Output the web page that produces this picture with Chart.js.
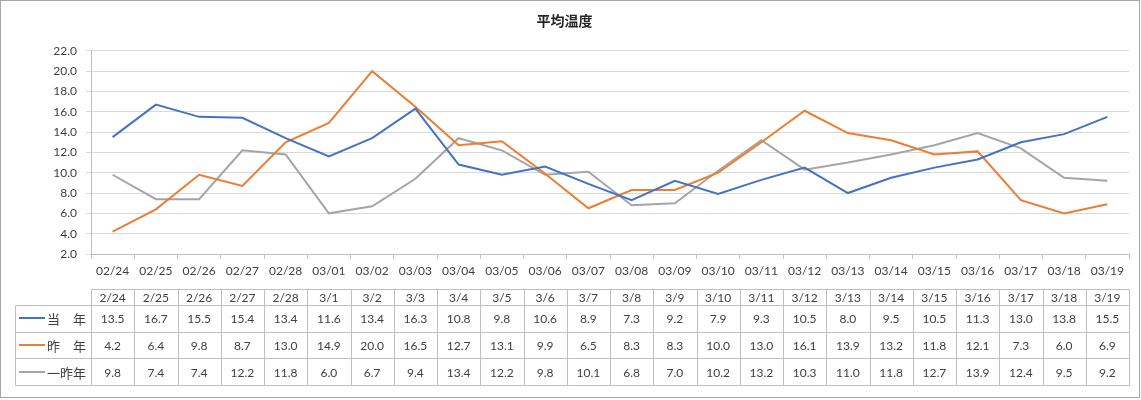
<!DOCTYPE html>
<html>
<head>
<meta charset="utf-8">
<script src="https://cdn.jsdelivr.net/npm/chart.js@4.4.1/dist/chart.umd.min.js"></script>
<style>
  html, body { margin: 0; padding: 0; background: #fff; }
  canvas { display: block; }
</style>
</head>
<body>
<canvas id="tempChart" width="1141" height="400"></canvas>
<script>
const axisLabels = ['02/24','02/25','02/26','02/27','02/28','03/01','03/02','03/03','03/04','03/05','03/06','03/07','03/08','03/09','03/10','03/11','03/12','03/13','03/14','03/15','03/16','03/17','03/18','03/19'];
const tableLabels = ['2/24','2/25','2/26','2/27','2/28','3/1','3/2','3/3','3/4','3/5','3/6','3/7','3/8','3/9','3/10','3/11','3/12','3/13','3/14','3/15','3/16','3/17','3/18','3/19'];
const seriesNames = ['当\u3000年', '昨\u3000年', '一昨年'];
const thisYear = [13.5,16.7,15.5,15.4,13.4,11.6,13.4,16.3,10.8,9.8,10.6,8.9,7.3,9.2,7.9,9.3,10.5,8.0,9.5,10.5,11.3,13.0,13.8,15.5];
const lastYear = [4.2,6.4,9.8,8.7,13.0,14.9,20.0,16.5,12.7,13.1,9.9,6.5,8.3,8.3,10.0,13.0,16.1,13.9,13.2,11.8,12.1,7.3,6.0,6.9];
const twoYearsAgo = [9.8,7.4,7.4,12.2,11.8,6.0,6.7,9.4,13.4,12.2,9.8,10.1,6.8,7.0,10.2,13.2,10.3,11.0,11.8,12.7,13.9,12.4,9.5,9.2];

const FONT = "Lato, 'Noto Sans CJK JP', sans-serif";
const CJK = "'Noto Sans CJK JP', sans-serif";

Chart.defaults.font.family = FONT;
Chart.defaults.font.size = 12;
Chart.defaults.color = '#595959';

// white background + outer frame
const framePlugin = {
  id: 'frame',
  beforeDraw(chart) {
    const ctx = chart.ctx;
    ctx.save();
    ctx.fillStyle = '#fff';
    ctx.fillRect(0, 0, chart.width, chart.height);
    ctx.strokeStyle = '#a6a6a6';
    ctx.lineWidth = 1;
    ctx.strokeRect(0.5, 0.5, chart.width - 2, chart.height - 3);
    ctx.restore();
  }
};

// data table under the x axis, columns follow the x scale
const dataTablePlugin = {
  id: 'dataTable',
  afterDraw(chart) {
    const ctx = chart.ctx;
    const xs = chart.scales.x;
    const n = tableLabels.length;
    const colW = (xs.right - xs.left) / n;
    const top = 289, headH = 16, rowH = 26.7, legLeft = 15;
    const rows = [thisYear, lastYear, twoYearsAgo];
    const yAt = r => Math.round(top + headH + r * rowH) + 0.5;
    const xAt = i => Math.round(xs.left + i * colW) + 0.5;

    ctx.save();
    ctx.strokeStyle = '#bfbfbf';
    ctx.lineWidth = 1;
    ctx.beginPath();
    ctx.moveTo(xAt(0), top + 0.5);
    ctx.lineTo(xAt(n), top + 0.5);
    for (let r = 0; r <= rows.length; r++) {
      ctx.moveTo(legLeft + 0.5, yAt(r));
      ctx.lineTo(xAt(n), yAt(r));
    }
    ctx.moveTo(legLeft + 0.5, yAt(0));
    ctx.lineTo(legLeft + 0.5, yAt(rows.length));
    for (let i = 0; i <= n; i++) {
      ctx.moveTo(xAt(i), top + 0.5);
      ctx.lineTo(xAt(i), yAt(rows.length));
    }
    ctx.stroke();

    ctx.fillStyle = '#404040';
    ctx.textAlign = 'center';
    ctx.textBaseline = 'middle';
    ctx.font = '12px ' + FONT;
    for (let i = 0; i < n; i++) {
      const cx = xs.left + (i + 0.5) * colW;
      ctx.fillText(tableLabels[i], cx, top + headH / 2 + 1);
      rows.forEach((vals, r) => {
        ctx.fillText(vals[i].toFixed(1), cx, top + headH + (r + 0.5) * rowH + 1);
      });
    }

    // legend keys
    rows.forEach((_, r) => {
      const cy = top + headH + (r + 0.5) * rowH;
      ctx.strokeStyle = chart.data.datasets[r].borderColor;
      ctx.lineWidth = 2;
      ctx.beginPath();
      ctx.moveTo(19, Math.round(cy));
      ctx.lineTo(45, Math.round(cy));
      ctx.stroke();
      ctx.fillStyle = '#404040';
      ctx.textAlign = 'left';
      ctx.font = '13px ' + CJK;
      ctx.fillText(seriesNames[r], 47, cy + 1);
    });
    ctx.restore();
  }
};

const ctx = document.getElementById('tempChart').getContext('2d');
new Chart(ctx, {
  type: 'line',
  plugins: [framePlugin, dataTablePlugin],
  data: {
    labels: axisLabels,
    datasets: [
      { label: seriesNames[0], data: thisYear, borderColor: '#4472C4', backgroundColor: '#4472C4' },
      { label: seriesNames[1], data: lastYear, borderColor: '#ED7D31', backgroundColor: '#ED7D31' },
      { label: seriesNames[2], data: twoYearsAgo, borderColor: '#A5A5A5', backgroundColor: '#A5A5A5' }
    ]
  },
  options: {
    responsive: false,
    animation: false,
    elements: {
      line: { borderWidth: 2, tension: 0 },
      point: { radius: 0, hoverRadius: 0 }
    },
    layout: { padding: { left: 0, right: 12, top: 0, bottom: 0 } },
    plugins: {
      legend: { display: false },
      tooltip: { enabled: false },
      title: {
        display: true,
        text: '平均温度',
        color: '#262626',
        font: { family: CJK, size: 14, weight: 'bold' },
        padding: { top: 12, bottom: 22 }
      }
    },
    scales: {
      x: {
        offset: true,
        grid: { drawOnChartArea: false, drawTicks: true, tickLength: 5, offset: true, color: '#bfbfbf' },
        border: { display: true, color: '#bfbfbf' },
        ticks: { color: '#404040', padding: 5, maxRotation: 0, autoSkip: false },
        afterFit(scale) { scale.height = 146; }
      },
      y: {
        min: 2,
        max: 22,
        grid: { color: '#d9d9d9', tickLength: 5 },
        border: { display: true, color: '#bfbfbf' },
        ticks: {
          stepSize: 2,
          padding: 9,
          color: '#404040',
          callback: v => v.toFixed(1)
        },
        afterFit(scale) { scale.width = 91; }
      }
    }
  }
});
</script>
</body>
</html>
